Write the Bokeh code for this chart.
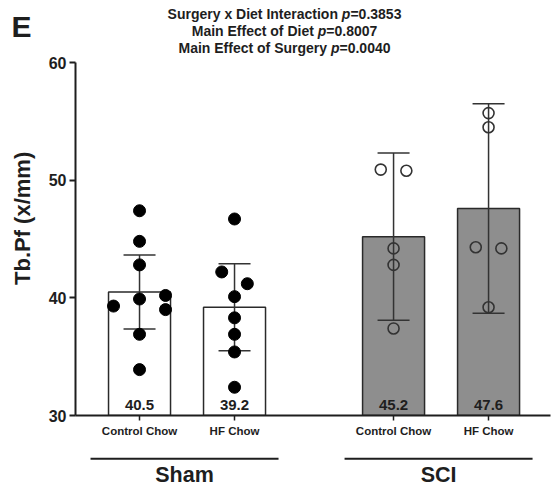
from math import pi

from bokeh.core.properties import value
from bokeh.embed import file_html
from bokeh.layouts import column, row
from bokeh.models import ColumnDataSource, FixedTicker, Range1d
from bokeh.plotting import figure
from bokeh.resources import INLINE

# ---- data -------------------------------------------------------------
surgery = ["Sham", "Sham", "SCI", "SCI"]
diet = ["Control Chow", "HF Chow", "Control Chow", "HF Chow"]
means = [40.5, 39.2, 45.2, 47.6]
sds = [3.15, 3.7, 7.1, 8.9]

sham_control = [47.4, 44.8, 42.8, 40.2, 39.9, 39.3, 39.0, 36.9, 33.9]
sham_hf = [46.7, 42.2, 41.2, 40.1, 38.3, 36.9, 35.4, 32.4]
sci_control = [50.9, 50.8, 44.2, 42.8, 37.4]
sci_hf = [55.7, 54.5, 44.3, 44.2, 39.2]
animals = [sham_control, sham_hf, sci_control, sci_hf]

y_ticks = [30, 40, 50, 60]
stats = [
    ("Surgery x Diet Interaction", "0.3853"),
    ("Main Effect of Diet", "0.8007"),
    ("Main Effect of Surgery", "0.0040"),
]
y_label = "Tb.Pf (x/mm)"
panel_letter = "E"

# ---- layout -----------------------------------------------------------
W, H = 560, 487
SIDE_W = 45              # strip left of the plot holding the panel letter and y title
MAIN_H = 440             # main plot (header text + bars + diet axis)
FOOT_H = H - MAIN_H      # surgery group brackets
AXIS_X = 75              # canvas x of the y axis
FRAME_BOTTOM = 415       # canvas y of the x axis
Y0, Y1 = 30, 60
PX_Y = 353 / (Y1 - Y0)
Y_TOP = Y0 + FRAME_BOTTOM / PX_Y
X0, X1 = 0.326, 5.326
PX_X = (W - AXIS_X - 10) / (X1 - X0)
GROUP_SHIFT = 2.674
FONT = "Liberation Sans"
INK = "#1e1e1e"

# advance widths (em) of Liberation Sans Bold, used to lay out the mixed-style header
ADV = {" ": .278, "S": .667, "u": .611, "r": .389, "g": .611, "e": .556, "y": .556,
       "x": .556, "D": .722, "i": .278, "t": .333, "I": .278, "n": .611, "a": .556,
       "c": .556, "o": .611, "M": .833, "E": .667, "f": .333, "p": .611, "=": .584,
       ".": .278}
ADV.update({d: .556 for d in "0123456789"})


def text_width(s, size):
    return sum(ADV.get(ch, .556) for ch in s) * size


def dx(px):
    """canvas x pixel -> data x"""
    return X0 + (px - AXIS_X) / PX_X


def dy(py):
    """canvas y pixel -> data y"""
    return Y0 + (FRAME_BOTTOM - py) / PX_Y


groups = ["Sham", "SCI"]
diets = ["Control Chow", "HF Chow"]
bar_x = [1 + diets.index(d) + groups.index(s) * GROUP_SHIFT for s, d in zip(surgery, diet)]


def swarm(vals, diam=12.0, thr=12.5, step=26.0, pair=12.8):
    """Horizontal offsets (data units) so nearby dots do not overlap."""
    order = sorted(range(len(vals)), key=lambda i: -vals[i])
    clusters = []
    for i in order:
        if clusters and (vals[clusters[-1][-1]] - vals[i]) * PX_Y < thr:
            clusters[-1].append(i)
        else:
            clusters.append([i])
    off = [0.0] * len(vals)
    for c in clusters:
        if len(c) == 2:
            off[c[0]], off[c[1]] = -pair, pair
        elif len(c) > 2:
            m = sum(vals[i] for i in c) / len(c)
            placed = []
            for i in sorted(c, key=lambda k: (round(abs(vals[k] - m), 6), -vals[k])):
                for cand in (0, -step, step, -2 * step, 2 * step):
                    if all(abs(cand - off[j]) >= diam or abs(vals[i] - vals[j]) * PX_Y >= thr
                           for j in placed):
                        off[i] = cand
                        break
                placed.append(i)
    return [o / PX_X for o in off]


def bare(fig):
    fig.outline_line_color = None
    fig.grid.visible = False
    fig.axis.visible = False
    fig.background_fill_color = "white"
    fig.border_fill_color = "white"
    return fig


bold = dict(text_font=value(FONT), text_font_style="bold", text_color=INK)
x_range = Range1d(X0, X1)

# ---- main plot -------------------------------------------------------------
p = figure(
    width=W - SIDE_W, height=MAIN_H, output_backend="svg", toolbar_location=None,
    x_range=x_range, y_range=Range1d(Y0, Y_TOP),
    min_border_left=AXIS_X - SIDE_W, min_border_right=10,
    min_border_top=0, min_border_bottom=MAIN_H - FRAME_BOTTOM,
)
p.outline_line_color = None
p.grid.visible = False
p.background_fill_color = "white"
p.border_fill_color = "white"

bar_src = ColumnDataSource(dict(
    x=bar_x, top=means,
    fill=["white" if s == "Sham" else "#8e8e8e" for s in surgery],
    upper=[m + s for m, s in zip(means, sds)],
    lower=[m - s for m, s in zip(means, sds)],
    label=[f"{m:.1f}" for m in means],
))
p.vbar(x="x", top="top", bottom=Y0, width=62 / PX_X, source=bar_src,
       fill_color="fill", line_color="#2a2a2a", line_width=1.5)

# mean +/- SD
cap = 16 / PX_X
p.segment(x0="x", x1="x", y0="lower", y1="upper", source=bar_src,
          line_color="#333333", line_width=1.5)
for key in ("upper", "lower"):
    p.segment(x0=[x - cap for x in bar_x], x1=[x + cap for x in bar_x],
              y0=bar_src.data[key], y1=bar_src.data[key],
              line_color="#333333", line_width=1.5)

# individual animals
for g, vals in enumerate(animals):
    offs = swarm(vals)
    xs = [bar_x[g] + o for o in offs]
    if surgery[g] == "Sham":
        p.scatter(xs, vals, size=12, fill_color="black", line_color="black")
    else:
        p.scatter(xs, vals, size=11, fill_color=None, line_color="#333333", line_width=1.6)

# mean value at the foot of each bar
p.text(x="x", y=dy(404.5), text="label", source=bar_src, text_align="center",
       text_baseline="middle", text_font_size="15px", **bold)

# statistics header, with an italic p
HEAD_SIZE = 14
HEAD_CENTER = 284
for (lead, pval), cy in zip(stats, [13.5, 30.5, 47.5]):
    pieces = [(lead, " ", "bold"), ("p", "", "bold italic"), ("=" + pval, "", "bold")]
    total = sum(text_width(t + gap, HEAD_SIZE) for t, gap, _ in pieces)
    left = HEAD_CENTER - total / 2
    for t, gap, style in pieces:
        p.text(x=[dx(left)], y=[dy(cy)], text=[t], text_align="left",
               text_baseline="middle", text_font=value(FONT), text_font_style=style,
               text_font_size=f"{HEAD_SIZE}px", text_color=INK)
        left += text_width(t + gap, HEAD_SIZE)

# axes
ya = p.yaxis[0]
ya.ticker = FixedTicker(ticks=y_ticks)
ya.bounds = (Y0, Y1)
ya.axis_line_width = 2
ya.axis_line_color = INK
ya.major_tick_line_width = 2
ya.major_tick_line_color = INK
ya.major_tick_out = 6
ya.major_tick_in = 0
ya.minor_tick_line_color = None
ya.major_label_text_font = FONT
ya.major_label_text_font_style = "bold"
ya.major_label_text_font_size = "16px"
ya.major_label_text_color = INK
ya.major_label_standoff = 3

xa = p.xaxis[0]
xa.ticker = FixedTicker(ticks=bar_x)
xa.major_label_overrides = {x: d for x, d in zip(bar_x, diet)}
xa.axis_line_width = 2
xa.axis_line_color = INK
xa.major_tick_line_width = 1.5
xa.major_tick_line_color = INK
xa.major_tick_out = 5
xa.major_tick_in = 0
xa.minor_tick_line_color = None
xa.major_label_text_font = FONT
xa.major_label_text_font_style = "bold"
xa.major_label_text_font_size = "11.5px"
xa.major_label_text_color = INK
xa.major_label_standoff = 4

# ---- left strip: panel letter and y title ---------------------------------
side = bare(figure(
    width=SIDE_W, height=MAIN_H, output_backend="svg", toolbar_location=None,
    x_range=Range1d(0, SIDE_W), y_range=Range1d(MAIN_H, 0),
    min_border=0,
))
side.text(x=[11], y=[27.5], text=[panel_letter], text_align="left",
          text_baseline="middle", text_font_size="30px", **bold)
side.text(x=[21.5], y=[231], text=[y_label], angle=pi / 2, text_align="center",
          text_baseline="middle", text_font_size="22px", **bold)

# ---- footer: surgery groups under the diet labels ------------------------
foot = bare(figure(
    width=W, height=FOOT_H, output_backend="svg", toolbar_location=None,
    x_range=x_range, y_range=Range1d(FOOT_H, 0),
    min_border_left=AXIS_X, min_border_right=10, min_border_top=0, min_border_bottom=0,
))
lo = [min(x for x, s in zip(bar_x, surgery) if s == g) - 49 / PX_X for g in groups]
hi = [max(x for x, s in zip(bar_x, surgery) if s == g) + 44 / PX_X for g in groups]
foot.segment(x0=lo, x1=hi, y0=18.3, y1=18.3, line_width=2, line_color=INK)
foot.text(x=[(a + b) / 2 for a, b in zip(lo, hi)], y=34, text=groups, text_align="center",
          text_baseline="middle", text_font_size="21.5px", **bold)

layout = column(row(side, p), foot)
open("out.html", "w").write(file_html(layout, INLINE))
